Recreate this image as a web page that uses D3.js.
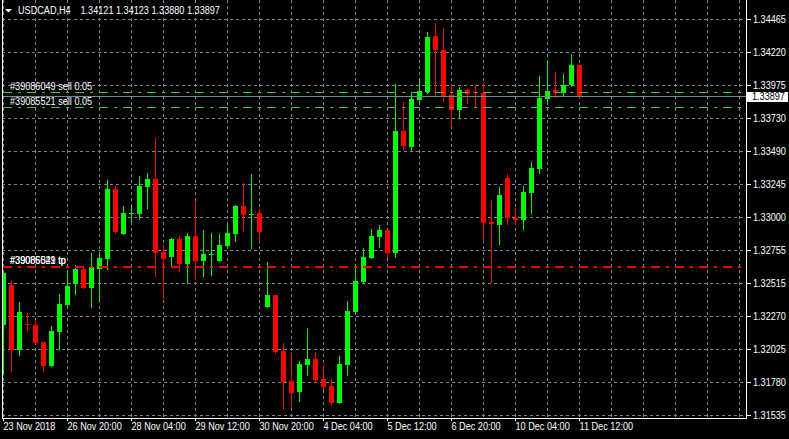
<!DOCTYPE html>
<html><head><meta charset="utf-8">
<script src="https://cdn.jsdelivr.net/npm/d3@7"></script>
<style>
html,body{margin:0;padding:0;background:#000;}
svg{display:block;}
text{font-family:"Liberation Sans",Arial,sans-serif;font-size:11px;fill:#fff;}
</style></head><body>
<svg id="c" width="789" height="439"></svg>
<script>
const symbol = "USDCAD,H4";
const headerValues = "1.34121 1.34123 1.33880 1.33897";
const opens = [
1.32203,1.32499,1.32013,1.32210,1.32203,1.32077,1.31900,1.32151,1.32351,1.32506,
1.32617,1.32477,1.32617,1.32691,1.33209,1.32876,1.33028,1.33024,1.33224,1.33283,
1.32743,1.32706,1.32839,1.32654,1.32862,1.32677,1.32725,1.32677,1.32788,1.32876,
1.33084,1.33017,1.33032,1.32336,1.32425,1.32011,1.31789,1.31707,1.31907,1.31951,
1.31803,1.31752,1.31626,1.31907,1.32299,1.32521,1.32699,1.32854,1.32906,1.32736,
1.33639,1.33520,1.33868,1.33927,1.34342,1.34238,1.33905,1.33794,1.33942,1.33924,
1.33920,1.32965,1.32943,1.33291,1.32995,1.32980,1.33180,1.33357,1.33875,1.33942,
1.33920,1.33979,1.34121];
const highs = [
1.32590,1.32536,1.32373,1.32292,1.32240,1.32077,1.32196,1.32432,1.32603,1.32647,
1.32632,1.32736,1.32728,1.33276,1.33232,1.33084,1.33084,1.33306,1.33328,1.33587,
1.32802,1.32847,1.32862,1.32884,1.33121,1.32906,1.32884,1.32876,1.32950,1.33091,
1.33254,1.33320,1.33061,1.32669,1.32425,1.32070,1.32003,1.31937,1.32181,1.32003,
1.31907,1.31803,1.31974,1.32381,1.32654,1.32773,1.32913,1.32943,1.32906,1.33986,
1.33853,1.33927,1.34031,1.34371,1.34438,1.34401,1.33986,1.33964,1.33949,1.33979,
1.33994,1.33128,1.33224,1.33320,1.33061,1.33232,1.33409,1.34046,1.34157,1.34075,
1.34060,1.34208,1.34123];
const lows = [
1.31840,1.31857,1.31981,1.32166,1.32066,1.31857,1.31900,1.32023,1.32344,1.32432,
1.32477,1.32336,1.32388,1.32617,1.32884,1.32876,1.32965,1.32987,1.33069,1.32566,
1.32403,1.32640,1.32603,1.32514,1.32551,1.32566,1.32573,1.32677,1.32788,1.32825,
1.32906,1.32773,1.32832,1.32336,1.31996,1.31581,1.31604,1.31641,1.31833,1.31789,
1.31729,1.31618,1.31626,1.31833,1.32299,1.32514,1.32699,1.32780,1.32706,1.32706,
1.33505,1.33498,1.33853,1.33920,1.33905,1.33861,1.33676,1.33735,1.33846,1.33816,
1.32832,1.32521,1.32802,1.32950,1.32950,1.32913,1.33032,1.33328,1.33853,1.33890,
1.33898,1.33972,1.33880];
const closes = [
1.32586,1.32013,1.32299,1.32199,1.32068,1.31900,1.32159,1.32358,1.32492,1.32617,
1.32477,1.32632,1.32699,1.33209,1.32891,1.33032,1.33032,1.33232,1.33283,1.32736,
1.32691,1.32839,1.32654,1.32862,1.32677,1.32728,1.32728,1.32795,1.32884,1.33084,
1.33017,1.33024,1.32891,1.32425,1.32003,1.31781,1.31700,1.31914,1.31951,1.31796,
1.31744,1.31626,1.31914,1.32307,1.32529,1.32706,1.32862,1.32906,1.32736,1.33639,
1.33528,1.33875,1.33935,1.34334,1.34238,1.33890,1.33794,1.33942,1.33912,1.33916,
1.32958,1.32950,1.33165,1.32995,1.32980,1.33187,1.33365,1.33883,1.33935,1.33920,
1.33979,1.34127,1.33897];
const timeLabels = ["23 Nov 2018","26 Nov 20:00","28 Nov 04:00","29 Nov 12:00","30 Nov 20:00",
  "4 Dec 04:00","5 Dec 12:00","6 Dec 20:00","10 Dec 04:00","11 Dec 12:00"];
const priceTicks = [1.34465,1.34220,1.33975,1.33730,1.33490,1.33245,1.33000,1.32755,1.32515,1.32270,1.32025,1.31780,1.31535];
const bidPrice = 1.33897;
const orderLabels = ["#39086049 sell 0.05","#39085521 sell 0.05"];
const orderPrices = [1.33925,1.33814];
const tpLabels = ["#39086049 tp","#39085521 tp"];
const tpPrice = 1.32634;

const svg = d3.select("#c");
const W = 789, H = 439;
const left = 2, right = 746, bottom = 418;
const barStep = 8, labelEvery = 8, gridEvery = 4;
const squeeze = 0.83;

// narrow the text horizontally (around its anchor) to match the terminal's compact font
function narrow(sel) {
  sel.each(function() {
    const t = d3.select(this);
    const tx = +(t.attr("x") || 0), ty = +(t.attr("y") || 0);
    t.attr("transform", `translate(${tx},${ty}) scale(${squeeze},1) translate(${-tx},${-ty})`);
  });
}

const x = d3.scaleLinear().domain([0, 72]).range([3, 3 + 72*barStep]);
const y = d3.scaleLinear().domain([priceTicks[priceTicks.length-1], priceTicks[0]]).rangeRound([415, 19]);

const GRID = "#778899";
svg.append("rect").attr("width", W).attr("height", H).attr("fill", "#000");

const g = svg.append("g").attr("shape-rendering", "crispEdges");

// grid
const nVert = Math.floor((right - 3) / (barStep*gridEvery)) + 1;
g.append("g").selectAll("line").data(d3.range(nVert)).join("line")
  .attr("x1", d => x(d*gridEvery) + 0.5).attr("x2", d => x(d*gridEvery) + 0.5)
  .attr("y1", 0).attr("y2", bottom)
  .attr("stroke", GRID).attr("stroke-dasharray", "3,3");
g.append("g").selectAll("line").data(priceTicks).join("line")
  .attr("x1", left).attr("x2", right)
  .attr("y1", d => y(d) + 0.5).attr("y2", d => y(d) + 0.5)
  .attr("stroke", GRID).attr("stroke-dasharray", "3,3");

svg.append("defs").append("clipPath").attr("id", "plot")
  .append("rect").attr("x", left + 1).attr("y", 0).attr("width", right - left - 1).attr("height", bottom);
const plot = g.append("g").attr("clip-path", "url(#plot)");

// candles
const idx = d3.range(opens.length);
const col = i => closes[i] >= opens[i] ? "#00ff00" : "#ff0000";
plot.append("g").selectAll("rect").data(idx).join("rect")
  .attr("x", i => x(i)).attr("width", 1)
  .attr("y", i => y(highs[i]))
  .attr("height", i => Math.max(1, y(lows[i]) - y(highs[i]) + 1))
  .attr("fill", col);
plot.append("g").selectAll("rect").data(idx).join("rect")
  .attr("x", i => x(i) - 2).attr("width", 5)
  .attr("y", i => y(Math.max(opens[i], closes[i])))
  .attr("height", i => Math.max(1, y(Math.min(opens[i], closes[i])) - y(Math.max(opens[i], closes[i]))))
  .attr("fill", col);

// order & tp lines
plot.append("g").selectAll("line").data(orderPrices).join("line")
  .attr("x1", left + 1).attr("x2", right - 5)
  .attr("y1", d => y(d) + 0.5).attr("y2", d => y(d) + 0.5)
  .attr("stroke", "#32cd32").attr("stroke-dasharray", "9,6,3,6");
plot.append("line")
  .attr("x1", left + 1).attr("x2", right - 5)
  .attr("y1", y(tpPrice) + 1).attr("y2", y(tpPrice) + 1)
  .attr("stroke", "#ff0000").attr("stroke-width", 2).attr("stroke-dasharray", "9,6,3,6");

// bid line
plot.append("line").attr("x1", left).attr("x2", right)
  .attr("y1", y(bidPrice) + 0.5).attr("y2", y(bidPrice) + 0.5)
  .attr("stroke", GRID);

// frame
g.append("line").attr("x1", left + 0.5).attr("x2", left + 0.5).attr("y1", 0).attr("y2", bottom + 1).attr("stroke", "#fff");
g.append("line").attr("x1", right + 0.5).attr("x2", right + 0.5).attr("y1", 0).attr("y2", bottom + 1).attr("stroke", "#fff");
g.append("line").attr("x1", left).attr("x2", right + 1).attr("y1", bottom + 0.5).attr("y2", bottom + 0.5).attr("stroke", "#fff");

// right axis
const yAxis = d3.axisRight(y).tickValues(priceTicks).tickSize(4).tickPadding(2)
  .tickFormat(d3.format(".5f"));
const ya = svg.append("g").attr("transform", `translate(${right + 1},0)`).call(yAxis);
ya.select(".domain").remove();
ya.selectAll("line").attr("stroke", "#fff").attr("shape-rendering", "crispEdges");
ya.selectAll("text").attr("fill", "#fff").style("font-size", "11px")
  .style("font-family", '"Liberation Sans",Arial,sans-serif').call(narrow);

// bid label
const by = y(bidPrice);
svg.append("rect").attr("x", right + 1).attr("y", by - 4).attr("width", 41).attr("height", 10).attr("fill", "#fff");
svg.append("text").attr("x", right + 6).attr("y", by + 4.5).style("fill", "#000")
  .text(d3.format(".5f")(bidPrice)).call(narrow);

// bottom axis
const xAxis = d3.axisBottom(x).tickValues(d3.range(0, opens.length, labelEvery)).tickSize(3)
  .tickFormat(d => timeLabels[d / labelEvery]);
const xa = svg.append("g").attr("transform", `translate(0,${bottom})`).call(xAxis);
xa.select(".domain").remove();
xa.selectAll("line").attr("stroke", "#fff").attr("shape-rendering", "crispEdges");
xa.selectAll("text").attr("fill", "#fff").attr("text-anchor", "start").attr("x", 0).attr("dy", null).attr("y", 12)
  .style("font-size", "11px")
  .style("font-family", '"Liberation Sans",Arial,sans-serif').call(narrow);

// order labels
svg.append("g").selectAll("text").data(orderLabels).join("text")
  .attr("x", 10).attr("y", (d, i) => y(orderPrices[i]) - 2).text(d => d).call(narrow);
svg.append("g").selectAll("text").data(tpLabels).join("text")
  .attr("x", 10).attr("y", y(tpPrice) - 2).text(d => d).call(narrow);

// header
svg.append("path").attr("d", "M5,9L12,9L8.5,12.5Z").attr("fill", "#fff");
svg.append("text").attr("x", 18).attr("y", 14).text(symbol).call(narrow);
svg.append("text").attr("x", 80.5).attr("y", 14).text(headerValues).call(narrow);
</script>
</body></html>
